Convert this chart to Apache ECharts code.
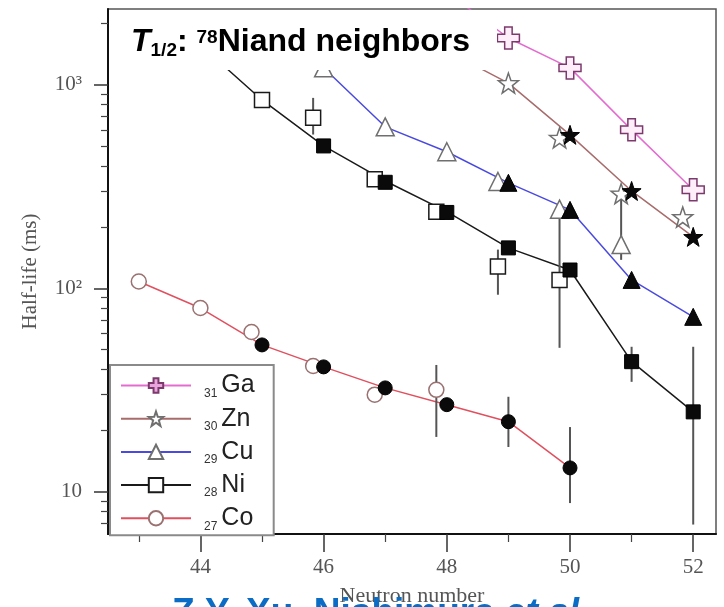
<!DOCTYPE html>
<html><head><meta charset="utf-8">
<script src="https://cdn.jsdelivr.net/npm/echarts@6/dist/echarts.min.js"></script>
<style>html,body{margin:0;padding:0;background:#fff}#c{width:724px;height:607px}</style>
</head><body><div id="c"></div>
<script>
// ---------------- data (half-life in ms vs neutron number) ----------------
const elements = ['Ga', 'Zn', 'Cu', 'Ni', 'Co'];
const protonNumbers = ['31', '30', '29', '28', '27'];

const gaLineN = [48, 49, 50, 51, 52];
const gaLineT = [2850, 1700, 1212, 601, 305];
const gaOpenN = [49, 50, 51, 52];
const gaOpenT = [1700, 1212, 601, 305];
const gaFilledN = [];
const gaFilledT = [];

const znLineN = [48, 49, 50, 51, 52];
const znLineT = [1470, 1020, 568, 301, 179];
const znOpenN = [49, 50, 51, 52];
const znOpenT = [1020, 549, 292, 224];
const znFilledN = [50, 51, 52];
const znFilledT = [568, 301, 179];

const cuLineN = [46, 47, 48, 49, 50, 51, 52];
const cuLineT = [1213, 622, 469, 330, 243, 110, 72.4];
const cuOpenN = [46, 47, 48, 49, 50, 51];
const cuOpenT = [1213, 622, 469, 335, 245, 164];
const cuFilledN = [49, 50, 51, 52];
const cuFilledT = [330, 243, 110, 72.4];

const niLineN = [44, 45, 46, 47, 48, 49, 50, 51, 52];
const niLineT = [1570, 843, 501, 337, 238, 158, 123, 43.6, 24.7];
const niOpenN = [45, 46, 47, 48, 49, 50];
const niOpenT = [843, 689, 344, 238, 128, 110];
const niFilledN = [46, 47, 48, 49, 50, 51, 52];
const niFilledT = [501, 332, 236, 158, 123, 43.6, 24.7];

const coLineN = [43, 44, 45, 46, 47, 48, 49, 50];
const coLineT = [108, 80, 52.7, 41.1, 32.4, 26.8, 22.1, 13.1];
const coOpenN = [43, 44, 45, 46, 47, 48];
const coOpenT = [108, 80, 61, 41.5, 30, 31.7];
const coFilledN = [45, 46, 47, 48, 49, 50];
const coFilledT = [52.7, 41.1, 32.4, 26.8, 22.1, 13.1];

// error bars
const errElement = ['Ni', 'Ni', 'Ni', 'Ni', 'Ni', 'Cu', 'Co', 'Co', 'Co'];
const errN       = [46, 49, 50, 51, 52, 51, 48, 49, 50];
const errKind    = ['open', 'open', 'open', 'filled', 'filled', 'open', 'open', 'filled', 'filled'];
const errLow     = [570, 93, 51, 34.7, 6.9, 138, 18.6, 16.6, 8.8];
const errHigh    = [863, 155, 239, 51.6, 51.6, 282, 42, 29.3, 20.8];

// axis ticks
const xMajorTicks = [44, 46, 48, 50, 52];
const xMinorTicks = [43, 45, 47, 49, 51];
const yMajorTicks = [10, 100, 1000];
const yMajorLabels = ['10', '10²', '10³'];
const yMinorTicks = [7, 8, 9, 20, 30, 40, 50, 60, 70, 80, 90, 200, 300, 400, 500, 600, 700, 800, 900, 2000];

// ---------------- styling ----------------
const OPEN_SHIFT = -0.17;
const PLUS = 'path://M33,0H67V33H100V67H67V100H33V67H0V33H33Z';
const STAR = 'path://M50,0L61.76,33.82L97.55,34.55L69.02,56.18L79.39,90.45L50,70L20.61,90.45L30.98,56.18L2.45,34.55L38.24,33.82Z';
const sty = {
  Ga: {line: '#e46cd0', symbol: PLUS, size: 22, openFill: '#fdeefa', openBorder: '#7c3a6c', legendFill: '#e9a6dc'},
  Zn: {line: '#a86c6c', symbol: STAR, size: 20, openFill: '#ffffff', openBorder: '#6f6f6f', legendFill: '#ffffff'},
  Cu: {line: '#4a4ae0', symbol: 'triangle', size: 18, openFill: '#ffffff', openBorder: '#6f6f6f', legendFill: '#ffffff'},
  Ni: {line: '#1a1a1a', symbol: 'rect', size: 15, openFill: '#ffffff', openBorder: '#1a1a1a', legendFill: '#ffffff'},
  Co: {line: '#e0505e', symbol: 'circle', size: 15, openFill: '#ffffff', openBorder: '#9a7070', legendFill: '#ffffff'}
};
const dataByEl = {
  Ga: {lineN: gaLineN, lineT: gaLineT, openN: gaOpenN, openT: gaOpenT, filledN: gaFilledN, filledT: gaFilledT},
  Zn: {lineN: znLineN, lineT: znLineT, openN: znOpenN, openT: znOpenT, filledN: znFilledN, filledT: znFilledT},
  Cu: {lineN: cuLineN, lineT: cuLineT, openN: cuOpenN, openT: cuOpenT, filledN: cuFilledN, filledT: cuFilledT},
  Ni: {lineN: niLineN, lineT: niLineT, openN: niOpenN, openT: niOpenT, filledN: niFilledN, filledT: niFilledT},
  Co: {lineN: coLineN, lineT: coLineT, openN: coOpenN, openT: coOpenT, filledN: coFilledN, filledT: coFilledT}
};
const zip = (a, b) => a.map((v, i) => [v, b[i]]);
const openX = (el, n) => dataByEl[el].filledN.indexOf(n) >= 0 ? n + OPEN_SHIFT : n;

const series = [];
elements.forEach(el => {
  const d = dataByEl[el], s = sty[el];
  series.push({
    name: el, type: 'line', data: zip(d.lineN, d.lineT),
    showSymbol: false, symbol: s.symbol, symbolSize: s.size,
    lineStyle: {color: s.line, width: 1.5},
    itemStyle: {color: s.legendFill, borderColor: s.openBorder, borderWidth: 1.5},
    z: 2, silent: true, animation: false
  });
});
// error bars
series.push({
  name: 'err', type: 'custom', z: 3, silent: true, animation: false,
  data: errN.map((n, i) => [errKind[i] === 'open' ? openX(errElement[i], n) : n, errLow[i], errHigh[i]]),
  encode: {x: 0, y: [1, 2]},
  renderItem: (params, api) => {
    const p1 = api.coord([api.value(0), api.value(1)]);
    const p2 = api.coord([api.value(0), api.value(2)]);
    return {type: 'line', shape: {x1: p1[0], y1: p1[1], x2: p2[0], y2: p2[1]},
            style: {stroke: '#555', lineWidth: 2}};
  }
});
elements.forEach(el => {
  const d = dataByEl[el], s = sty[el];
  series.push({
    name: el + '-open', type: 'scatter', z: 4, silent: true, animation: false,
    data: d.openN.map((n, i) => [openX(el, n), d.openT[i]]),
    symbol: s.symbol, symbolSize: s.size,
    itemStyle: {color: s.openFill, borderColor: s.openBorder, borderWidth: 1.5, opacity: 1}
  });
  series.push({
    name: el + '-filled', type: 'scatter', z: 5, silent: true, animation: false,
    data: zip(d.filledN, d.filledT),
    symbol: s.symbol, symbolSize: s.size - 1,
    itemStyle: {color: '#0a0a0a', borderColor: '#000', borderWidth: 1, opacity: 1}
  });
});

const serif = 'Liberation Serif, DejaVu Serif, serif';
const sans = 'Liberation Sans, Arial, sans-serif';
const X_MIN = 42.5, X_MAX = 52.37, Y_MIN = 6.2, Y_MAX = 2360;

const option = {
  backgroundColor: '#ffffff',
  animation: false,
  grid: {left: 108, right: 8, top: 9, bottom: 73, show: true, borderColor: '#555', borderWidth: 1.5,
         backgroundColor: 'transparent', outerBoundsMode: 'none'},
  xAxis: [{
    type: 'value', min: X_MIN, max: X_MAX, position: 'bottom',
    name: 'Neutron number', nameLocation: 'middle', nameGap: 51,
    nameTextStyle: {fontFamily: serif, fontSize: 22, color: '#555'},
    axisLine: {show: true, lineStyle: {color: '#111', width: 2}},
    axisTick: {show: true, customValues: xMajorTicks, length: 18, lineStyle: {color: '#333', width: 1.5}},
    axisLabel: {customValues: xMajorTicks, margin: 23, fontFamily: serif, fontSize: 21, color: '#555'},
    splitLine: {show: false}
  }, {
    type: 'value', min: X_MIN, max: X_MAX, position: 'bottom',
    axisLine: {show: false},
    axisTick: {show: true, customValues: xMinorTicks, length: 8, lineStyle: {color: '#444', width: 1.2}},
    axisLabel: {show: false}, splitLine: {show: false}
  }],
  yAxis: [{
    type: 'log', logBase: 10, min: Y_MIN, max: Y_MAX, position: 'left',
    name: 'Half-life (ms)', nameLocation: 'middle', nameGap: 67, nameRotate: 90,
    nameTextStyle: {fontFamily: serif, fontSize: 21, color: '#555'},
    axisLine: {show: true, lineStyle: {color: '#111', width: 2}},
    axisTick: {show: true, customValues: yMajorTicks, length: 14, lineStyle: {color: '#333', width: 1.5}},
    axisLabel: {customValues: yMajorTicks, margin: 26, fontFamily: serif, fontSize: 21, color: '#555',
      formatter: v => yMajorLabels[yMajorTicks.indexOf(Math.pow(10, Math.round(Math.log10(v))))] || ''},
    splitLine: {show: false}
  }, {
    type: 'log', logBase: 10, min: Y_MIN, max: Y_MAX, position: 'left',
    axisLine: {show: false},
    axisTick: {show: true, customValues: yMinorTicks, length: 7, lineStyle: {color: '#444', width: 1.2}},
    axisLabel: {show: false}, splitLine: {show: false}
  }],
  legend: {
    data: elements, orient: 'vertical', left: 110, top: 365,
    padding: [8, 19, 3, 10], itemGap: 6.7, itemWidth: 70, itemHeight: 18,
    backgroundColor: '#fff', borderColor: '#8a8a8a', borderWidth: 2, borderRadius: 0,
    selectedMode: false, z: 6,
    formatter: name => '{sub|' + protonNumbers[elements.indexOf(name)] + '}{el|' + name + '}',
    textStyle: {
      rich: {
        sub: {fontFamily: sans, fontSize: 12, color: '#333', lineHeight: 6, verticalAlign: 'bottom', padding: [0, 0, 0, 8]},
        el: {fontFamily: sans, fontSize: 25, color: '#222', lineHeight: 28, padding: [0, 0, 0, 4]}
      }
    }
  },
  graphic: [
    {type: 'rect', z: 100, shape: {x: 109, y: 10, width: 388, height: 60}, style: {fill: '#fff'}},
    {type: 'text', z: 101, x: 131, y: 20, style: {
      text: '{ti|T}{sub|1/2}{b|: }{sup|78}{b|Niand neighbors}',
      verticalAlign: 'top', align: 'left',
      rich: {
        ti: {fontFamily: sans, fontSize: 32, fontWeight: 'bold', fontStyle: 'italic', lineHeight: 45, fill: '#000'},
        b: {fontFamily: sans, fontSize: 32, fontWeight: 'bold', lineHeight: 45, fill: '#000'},
        sub: {fontFamily: sans, fontSize: 19, fontWeight: 'bold', lineHeight: 18, verticalAlign: 'bottom', padding: [0, 0, 5, 0], fill: '#000'},
        sup: {fontFamily: sans, fontSize: 19, fontWeight: 'bold', lineHeight: 34, verticalAlign: 'top', padding: [8, 0, 0, 0], fill: '#000'}
      }
    }},
    {type: 'text', z: 101, x: 172, y: 595, style: {
      text: '{a|Z.Y. Xu, Nishimura }{i|et al.}',
      verticalAlign: 'top', align: 'left',
      rich: {
        a: {fontFamily: sans, fontSize: 37, fontWeight: 'bold', lineHeight: 37, fill: '#0a6cc4'},
        i: {fontFamily: sans, fontSize: 37, fontWeight: 'bold', fontStyle: 'italic', lineHeight: 37, fill: '#0a6cc4'}
      }
    }}
  ],
  series: series
};

const chart = echarts.init(document.getElementById('c'), null, {renderer: 'canvas'});
chart.setOption(option);
</script>
</body></html>
